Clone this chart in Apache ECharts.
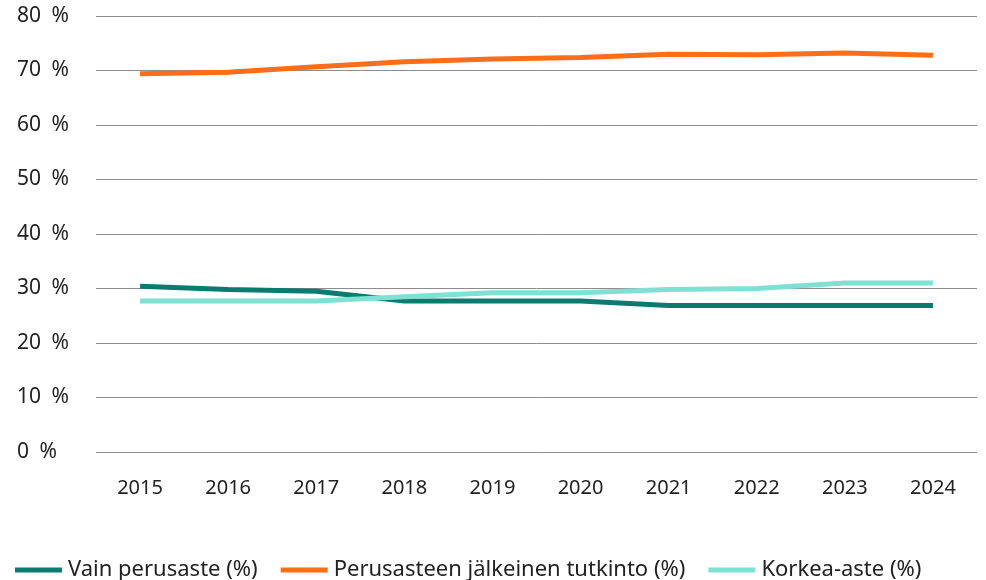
<!DOCTYPE html>
<html>
<head>
<meta charset="utf-8">
<script src="https://cdn.jsdelivr.net/npm/echarts@6/dist/echarts.min.js"></script>
<style>
html, body { margin: 0; padding: 0; background: #fff; }
#chart { width: 986px; height: 580px; }
</style>
</head>
<body>
<div id="chart"></div>
<script>
// vuodet ja sarjat
const years = ["2015", "2016", "2017", "2018", "2019", "2020", "2021", "2022", "2023", "2024"];
const vainPerusaste = [30.4, 29.8, 29.5, 27.7, 27.7, 27.7, 26.9, 26.9, 26.9, 26.9];
const perusasteenJalkeinen = [69.4, 69.7, 70.7, 71.6, 72.1, 72.4, 73.0, 72.9, 73.2, 72.8];
const korkeaAste = [27.7, 27.7, 27.7, 28.5, 29.2, 29.2, 29.8, 30.0, 31.0, 31.0];
const yTicks = [0, 10, 20, 30, 40, 50, 60, 70, 80];

const font = "Noto Sans";
const chart = echarts.init(document.getElementById("chart"));

function lineSeries(name, data, color) {
    return {
        name: name,
        type: "line",
        data: data,
        symbol: "none",
        lineStyle: { width: 5, color: color },
        itemStyle: { color: color },
    };
}

const option = {
    animation: false,
    grid: {
        left: 96,
        right: 9,
        top: 16,
        bottom: 128,
    },
    legend: {
        left: 10,
        top: 554,
        itemWidth: 47,
        itemHeight: 5,
        itemGap: 23,
        icon: "rect",
        textStyle: {
            fontFamily: font,
            fontSize: 22,
            color: "#222",
            padding: [0, 0, 0, 1],
        },
        data: ["Vain perusaste (%)", "Perusasteen jälkeinen tutkinto (%)", "Korkea-aste (%)"],
    },
    xAxis: {
        type: "category",
        data: years,
        boundaryGap: true,
        axisLine: { show: false },
        axisTick: { show: false },
        axisLabel: {
            margin: 26,
            fontFamily: font,
            fontSize: 20,
            color: "#222",
        },
    },
    yAxis: {
        type: "value",
        min: 0,
        max: 80,
        interval: 10,
        axisLine: { show: false },
        axisTick: { show: false },
        splitLine: {
            show: true,
            lineStyle: { color: "#8c8c8c", width: 1 },
        },
        axisLabel: {
            align: "left",
            margin: 79,
            fontFamily: font,
            fontSize: 21,
            color: "#222",
            formatter: function (v) {
                return yTicks.indexOf(v) >= 0 ? v + "\u2002%" : "";
            },
        },
    },
    series: [
        lineSeries("Vain perusaste (%)", vainPerusaste, "#0b7a6f"),
        lineSeries("Perusasteen jälkeinen tutkinto (%)", perusasteenJalkeinen, "#ff6d17"),
        lineSeries("Korkea-aste (%)", korkeaAste, "#7fe1d4"),
    ],
};

chart.setOption(option);
</script>
</body>
</html>
